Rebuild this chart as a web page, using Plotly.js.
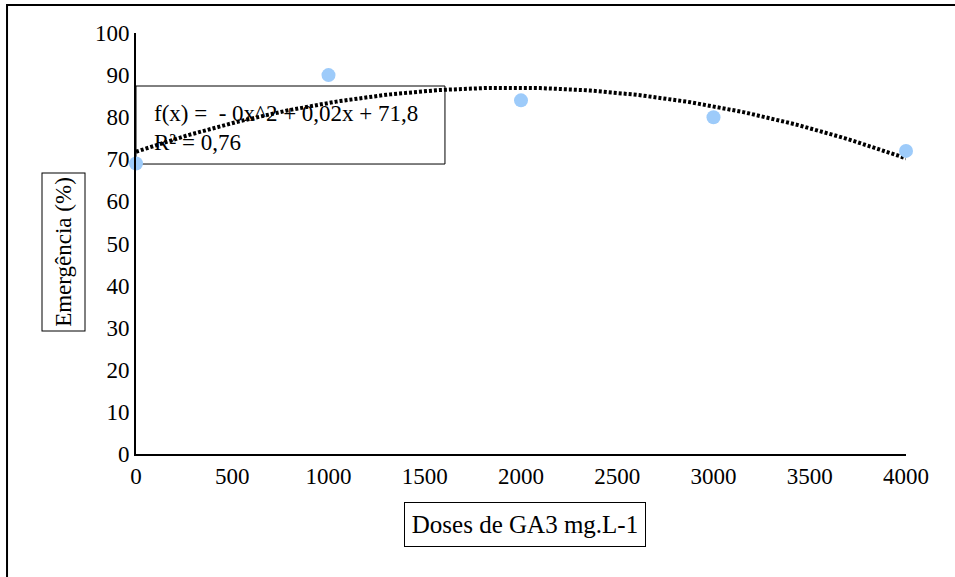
<!DOCTYPE html>
<html>
<head>
<meta charset="utf-8">
<script src="https://cdn.plot.ly/plotly-3.0.1.min.js"></script>
<style>
html,body{margin:0;padding:0;background:#fff;}
#chart{width:955px;height:577px;}
</style>
</head>
<body>
<div id="chart"></div>
<script>
// Data
const doses = [0, 1000, 2000, 3000, 4000];
const emergencia = [69, 90, 84, 80, 72];
const xTickVals = [0, 500, 1000, 1500, 2000, 2500, 3000, 3500, 4000];
const yTickVals = [0, 10, 20, 30, 40, 50, 60, 70, 80, 90, 100];
const equationText = "f(x) = &nbsp;- 0x^2 + 0,02x + 71,8<br>R² = 0,76";
const xTitle = "Doses de GA3 mg.L-1";
const yTitle = "Emergência (%)";

// Polynomial (order 2) least-squares trendline computed from the data
function quadFit(xs, ys) {
  const n = xs.length;
  let s = [0,0,0,0,0], t = [0,0,0];
  for (let i = 0; i < n; i++) {
    const x = xs[i], y = ys[i];
    for (let k = 0; k <= 4; k++) s[k] += Math.pow(x, k);
    for (let k = 0; k <= 2; k++) t[k] += y * Math.pow(x, k);
  }
  const M = [[s[0], s[1], s[2], t[0]], [s[1], s[2], s[3], t[1]], [s[2], s[3], s[4], t[2]]];
  for (let i = 0; i < 3; i++) {
    let p = i;
    for (let r = i + 1; r < 3; r++) if (Math.abs(M[r][i]) > Math.abs(M[p][i])) p = r;
    [M[i], M[p]] = [M[p], M[i]];
    for (let r = 0; r < 3; r++) {
      if (r === i) continue;
      const f = M[r][i] / M[i][i];
      for (let c = i; c < 4; c++) M[r][c] -= f * M[i][c];
    }
  }
  return [M[0][3] / M[0][0], M[1][3] / M[1][1], M[2][3] / M[2][2]];
}
const coef = quadFit(doses, emergencia);
const trendX = [], trendY = [];
const xMin = doses[0], xMax = doses[doses.length - 1];
for (let i = 0; i <= 200; i++) {
  const x = xMin + (xMax - xMin) * i / 200;
  trendX.push(x);
  trendY.push(coef[0] + coef[1] * x + coef[2] * x * x);
}

const font = {family: 'Liberation Serif', size: 23, color: '#000'};

const traces = [
  {
    x: trendX, y: trendY, type: 'scatter', mode: 'lines',
    line: {color: '#000', width: 4, dash: '3px,2px'},
    hoverinfo: 'skip', showlegend: false
  },
  {
    x: doses, y: emergencia, type: 'scatter', mode: 'markers',
    marker: {color: '#9DCBFA', size: 14},
    cliponaxis: false, showlegend: false
  }
];

const layout = {
  width: 955, height: 577,
  margin: {l: 136, r: 49, t: 33, b: 123},
  paper_bgcolor: '#fff', plot_bgcolor: '#fff',
  font: font,
  showlegend: false,
  xaxis: {
    range: [0, 4000], tickvals: xTickVals, ticktext: xTickVals.map(String),
    showgrid: false, zeroline: false, showline: true, linecolor: '#000', linewidth: 2,
    ticks: '', tickfont: font, fixedrange: true
  },
  yaxis: {
    range: [0, 100], tickvals: yTickVals, ticktext: yTickVals.map(String),
    showgrid: false, zeroline: false, showline: true, linecolor: '#000', linewidth: 2,
    ticks: '', tickfont: font, fixedrange: true
  },
  shapes: [
    {type: 'rect', xref: 'paper', yref: 'paper', x0: -0.1675, x1: 1.5, y0: -1, y1: 1.0665,
     line: {color: '#000', width: 2}, layer: 'below'},
    {type: 'rect', xref: 'x', yref: 'y', x0: 0, x1: 1605, y0: 68.88, y1: 87.41,
     line: {color: '#000', width: 1}, fillcolor: 'rgba(0,0,0,0)', layer: 'below',
     label: {text: equationText, textposition: 'middle left', padding: 15, font: font}}
  ],
  annotations: [
    {text: yTitle, xref: 'paper', yref: 'paper',
     x: (63 - 136) / 770, y: (454 - 252.5) / 421, xanchor: 'center', yanchor: 'middle',
     textangle: -90, showarrow: false, font: font,
     bordercolor: '#000', borderwidth: 1, borderpad: 0, width: 157, height: 42},
    {text: xTitle, xref: 'paper', yref: 'paper',
     x: (525 - 136) / 770, y: (454 - 524.5) / 421, xanchor: 'center', yanchor: 'middle',
     showarrow: false, font: Object.assign({}, font, {size: 25}),
     bordercolor: '#000', borderwidth: 1, borderpad: 0, width: 240, height: 43}
  ]
};

Plotly.newPlot('chart', traces, layout, {staticPlot: true, displayModeBar: false});
</script>
</body>
</html>
